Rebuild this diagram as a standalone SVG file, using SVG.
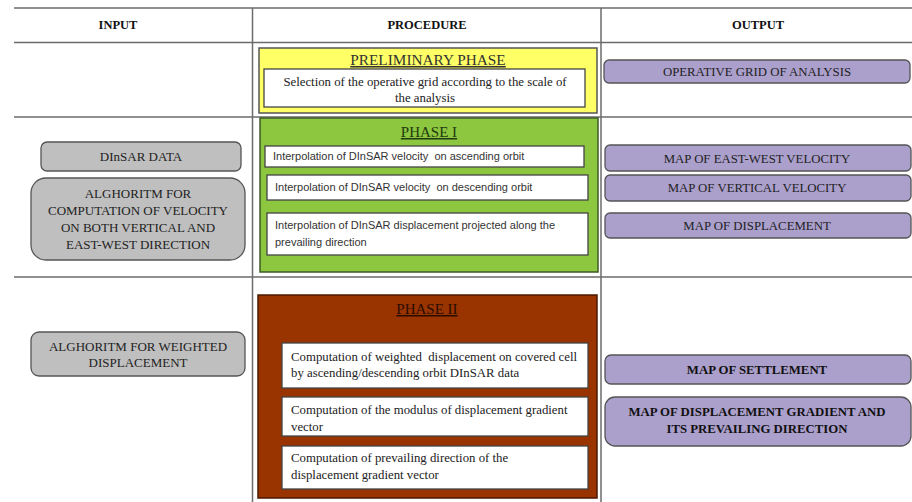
<svg xmlns="http://www.w3.org/2000/svg" width="912" height="502" viewBox="0 0 912 502">
<style>
.grid{stroke:#6b6b6b;stroke-width:1.5;fill:none}
.hdr{font-family:"Liberation Serif",serif;font-size:12.5px;font-weight:bold;fill:#111;text-anchor:middle}
.ser{font-family:"Liberation Serif",serif;fill:#222}
.sans{font-family:"Liberation Sans",sans-serif;font-size:11px;fill:#333;white-space:pre}
.c{text-anchor:middle}
.in{fill:#bfbfbf;stroke:#555;stroke-width:1.3}
.out{fill:#ab9fcc;stroke:#555;stroke-width:1.3}
.wb{fill:#fff;stroke:#444;stroke-width:1.3}
.ttl{font-family:"Liberation Serif",serif;font-size:15px;text-anchor:middle;text-decoration:underline}
.t12{font-size:13px}
.t11{font-size:12.8px}
.t13{font-size:12.8px;white-space:pre}
.b{font-weight:bold;fill:#111}
</style>
<rect width="912" height="502" fill="#fff"/>
<g id="grid">
<line class="grid" x1="14" y1="8" x2="912" y2="8"/>
<line class="grid" x1="14" y1="42.5" x2="912" y2="42.5"/>
<line class="grid" x1="14" y1="117" x2="912" y2="117"/>
<line class="grid" x1="14" y1="277" x2="912" y2="277"/>
<line class="grid" x1="252.5" y1="8" x2="252.5" y2="502"/>
<line class="grid" x1="601" y1="8" x2="601" y2="502"/>
</g>
<g id="headers">
<text class="hdr" x="118" y="29">INPUT</text>
<text class="hdr" x="427" y="29">PROCEDURE</text>
<text class="hdr" x="758" y="29">OUTPUT</text>
</g>
<g id="preliminary">
<rect x="259" y="48" width="338" height="65" fill="#ffff66" stroke="#555" stroke-width="1.5"/>
<text class="ttl" x="428" y="65" fill="#333" style="font-size:15.3px">PRELIMINARY PHASE</text>
<rect class="wb" x="264" y="69" width="321" height="38"/>
<text class="ser t11 c" x="425" y="86">Selection of the operative grid according to the scale of</text>
<text class="ser t11 c" x="425" y="102">the analysis</text>
</g>
<g id="out-grid">
<rect class="out" x="604" y="60" width="306" height="23" rx="5"/>
<text class="ser t11 c" x="757" y="76">OPERATIVE GRID OF ANALYSIS</text>
</g>
<g id="phase1">
<rect x="260" y="118" width="338" height="154" fill="#8dc63f" stroke="#3f5a2a" stroke-width="1.5"/>
<text class="ttl" x="429" y="137" fill="#1f3a10">PHASE I</text>
<rect class="wb" x="265" y="146" width="319" height="21"/>
<text class="sans" x="273" y="160">Interpolation of DInSAR velocity  on ascending orbit</text>
<rect class="wb" x="267" y="175" width="321" height="25"/>
<text class="sans" x="275" y="191">Interpolation of DInSAR velocity  on descending orbit</text>
<rect class="wb" x="267" y="213" width="321" height="42"/>
<text class="sans" x="275" y="229">Interpolation of DInSAR displacement projected along the</text>
<text class="sans" x="275" y="246">prevailing direction</text>
</g>
<g id="in-dinsar">
<rect class="in" x="41" y="142" width="200" height="29" rx="6"/>
<text class="ser t12 c" x="141" y="161">DInSAR DATA</text>
</g>
<g id="in-alg-velocity">
<rect class="in" x="31" y="178" width="214" height="82" rx="15"/>
<text class="ser t12 c" x="138" y="198">ALGHORITM FOR</text>
<text class="ser t12 c" x="138" y="215">COMPUTATION OF VELOCITY</text>
<text class="ser t12 c" x="138" y="232">ON BOTH VERTICAL AND</text>
<text class="ser t12 c" x="138" y="249">EAST-WEST DIRECTION</text>
</g>
<g id="out-ew">
<rect class="out" x="605" y="145" width="306" height="26" rx="5"/>
<text class="ser t11 c" x="757" y="163">MAP OF EAST-WEST VELOCITY</text>
</g>
<g id="out-vert">
<rect class="out" x="605" y="175" width="306" height="26" rx="5"/>
<text class="ser t11 c" x="757" y="192">MAP OF VERTICAL VELOCITY</text>
</g>
<g id="out-disp">
<rect class="out" x="605" y="213" width="306" height="25" rx="5"/>
<text class="ser t11 c" x="757" y="230">MAP OF DISPLACEMENT</text>
</g>
<g id="phase2">
<rect x="258" y="295" width="339" height="203" fill="#993300" stroke="#4a1a00" stroke-width="1.5"/>
<text class="ttl" x="427" y="314" fill="#2a0d00">PHASE II</text>
<rect class="wb" x="282" y="343" width="306" height="45"/>
<text class="ser t13" x="291" y="361">Computation of weighted  displacement on covered cell</text>
<text class="ser t13" x="291" y="377">by ascending/descending orbit DInSAR data</text>
<rect class="wb" x="282" y="397" width="306" height="39"/>
<text class="ser t13" x="291" y="414">Computation of the modulus of displacement gradient</text>
<text class="ser t13" x="291" y="431">vector</text>
<rect class="wb" x="282" y="446" width="306" height="43"/>
<text class="ser t13" x="291" y="462">Computation of prevailing direction of the</text>
<text class="ser t13" x="291" y="479">displacement gradient vector</text>
</g>
<g id="in-alg-weighted">
<rect class="in" x="31" y="332" width="214" height="44" rx="8"/>
<text class="ser t12 c" x="138" y="351">ALGHORITM FOR WEIGHTED</text>
<text class="ser t12 c" x="138" y="367">DISPLACEMENT</text>
</g>
<g id="out-settlement">
<rect class="out" x="605" y="355" width="306" height="29" rx="6"/>
<text class="ser t11 c b" x="757" y="374">MAP OF SETTLEMENT</text>
</g>
<g id="out-gradient">
<rect class="out" x="605" y="397" width="306" height="49" rx="10"/>
<text class="ser t11 c b" x="757" y="416">MAP OF DISPLACEMENT GRADIENT AND</text>
<text class="ser t11 c b" x="757" y="433">ITS PREVAILING DIRECTION</text>
</g>
<g id="connectors"/>
</svg>
